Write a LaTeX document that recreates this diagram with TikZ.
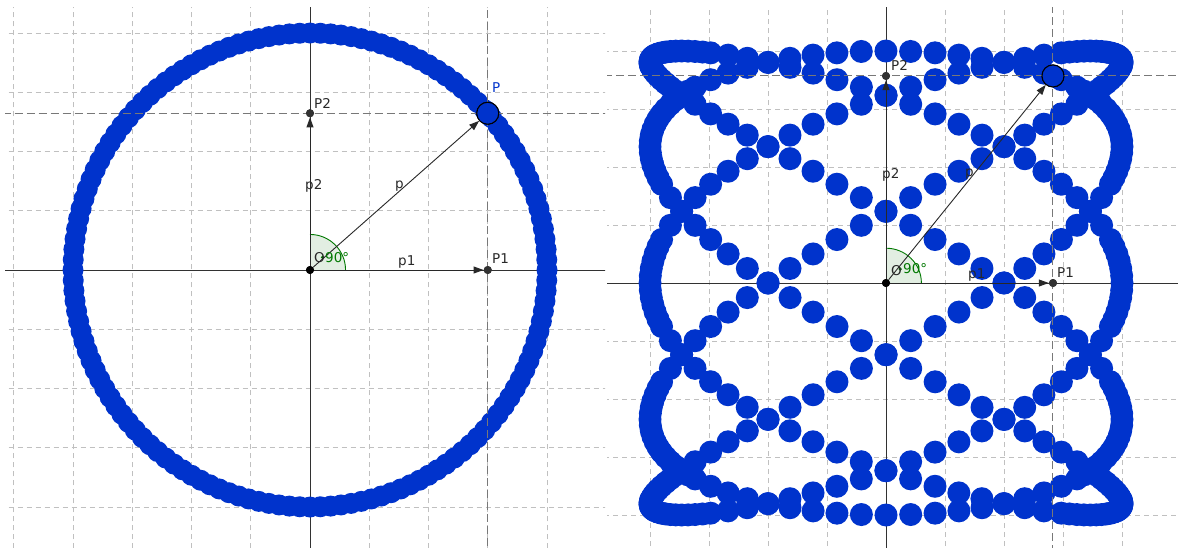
\documentclass[tikz,border=0pt]{standalone}
\usepackage{fontspec}
\setmainfont{DejaVu Sans}
\usetikzlibrary{arrows.meta}
\definecolor{dotblue}{RGB}{0,51,204}
\definecolor{gridgray}{RGB}{192,192,192}
\definecolor{dashdark}{RGB}{120,120,120}
\definecolor{axisgray}{RGB}{50,50,50}
\definecolor{txt}{RGB}{40,40,40}
\definecolor{anggreen}{RGB}{0,120,0}
\definecolor{angfill}{RGB}{226,238,226}
\tikzset{
  gridline/.style={gridgray, dash pattern=on 5pt off 4pt, line width=0.8pt},
  axisline/.style={axisgray, line width=0.9pt},
  guide/.style={dashdark, dash pattern=on 8pt off 4pt, line width=1pt},
  vec/.style={txt, line width=0.9pt, -{Triangle[length=10pt,width=7pt]}},
  ptdot/.style={circle, fill=axisgray, inner sep=0pt, minimum size=8pt},
  odot/.style={circle, fill=black, inner sep=0pt, minimum size=8pt},
  pcirc/.style={circle, draw=black, fill=dotblue, line width=1pt, inner sep=0pt, minimum size=22pt},
  lbl/.style={font=\fontsize{13.5}{16}\selectfont, text=txt, inner sep=0pt, anchor=base west},
  anglbl/.style={lbl, text=anggreen},
}
\begin{document}
\begin{tikzpicture}[x=1pt,y=-1pt]
\useasboundingbox (0,0) rectangle (1178,547);
\fill[white] (0,0) rectangle (1178,547);

% ---------------- left panel ----------------
\begin{scope}
\clip (5,7) rectangle (605,547);
\begin{scope}[shift={(310,270)}, x=59.25pt, y=59.25pt]
  \foreach \k in {-5,...,5} {
    \ifnum\k=0\relax\else
      \draw[gridline] (\k,-5) -- (\k,5);
      \draw[gridline] (-6,\k) -- (6,\k);
    \fi
  }
  \fill[angfill] (0,0) -- (0.6,0) arc[start angle=0,end angle=90,radius=0.6] -- cycle;
  \draw[anggreen, line width=0.9pt] (0.6,0) arc[start angle=0,end angle=90,radius=0.6];
  \fill[anggreen] (45:0.3) circle[radius=1.8pt];
  \draw[axisline] (-6,0) -- (6,0);
  \draw[axisline] (0,-5) -- (0,5);
  \foreach \a in {0,2.5,...,357.5} \fill[dotblue] (\a:4) circle[radius=10.5pt];
  \node[odot] (OL) at (0,0) {};
  \node[ptdot] (P1L) at (3,0) {};
  \node[ptdot] (P2L) at (0,2.6458) {};
  \node[pcirc] (PL) at (3,2.6458) {};
  \draw[guide] (P1L |- 0,5) -- (P1L |- 0,-5);
  \draw[guide] (P2L -| -6,0) -- (P2L -| 6,0);
  \draw[vec] (OL) -- (P1L);
  \draw[vec] (OL) -- (P2L);
  \draw[vec] (OL) -- (PL);
  \node[ptdot] at (P1L) {};
  \node[ptdot] at (P2L) {};
  \node[odot] at (OL) {};
  \node[pcirc] at (PL) {};
\end{scope}
\end{scope}
\node[lbl] (lP2L) at (314,108) {P2};
\node[lbl] (lp2L) at (305,189) {p2};
\node[lbl] (lpL) at (395,188) {p};
\node[lbl] (lp1L) at (398,265) {p1};
\node[lbl] (lP1L) at (492,263) {P1};
\node[lbl, text=dotblue] (lPL) at (492,92) {P};
\node[lbl] (lOL) at (314,262) {O};
\node[anglbl] (lAL) at (325,262) {90°};

% ---------------- right panel ----------------
\begin{scope}
\clip (607,7) rectangle (1178,547);
\begin{scope}[shift={(886,283)}, x=59pt, y=58pt]
  \foreach \k in {-5,...,5} {
    \ifnum\k=0\relax\else
      \draw[gridline] (\k,-5) -- (\k,5);
      \draw[gridline] (-6,\k) -- (6,\k);
    \fi
  }
  \fill[angfill] (0,0) -- (0.6,0) arc[start angle=0,end angle=90,radius=0.6] -- cycle;
  \draw[anggreen, line width=0.9pt] (0.6,0) arc[start angle=0,end angle=90,radius=0.6];
  \fill[anggreen] (45:0.34) circle[radius=1.8pt];
  \draw[axisline] (-6,0) -- (6,0);
  \draw[axisline] (0,-5) -- (0,5);
  \foreach \i in {0,...,1199} {
    \pgfmathsetmacro\tt{0.3*\i}
    \pgfmathsetmacro\sp{sqrt((20*sin(5*\tt))^2+(12*cos(3*\tt))^2)}
    \pgfmathtruncatemacro\keep{(mod(\i,4)==0) || ((mod(\i,2)==0) && (\sp<13)) || (\sp<5)}
    \ifnum\keep=1
      \fill[dotblue] ({-4*cos(5*\tt)},{4*sin(3*\tt)}) circle[radius=11.5pt];
    \fi
  }
  \node[odot] (OR) at (0,0) {};
  \node[ptdot] (P1R) at (2.83,0) {};
  \node[ptdot] (P2R) at (0,3.57) {};
  \node[pcirc] (PR) at (2.83,3.57) {};
  \draw[guide] (P1R |- 0,5) -- (P1R |- 0,-5);
  \draw[guide] (P2R -| -6,0) -- (P2R -| 6,0);
  \draw[vec] (OR) -- (P1R);
  \draw[vec] (OR) -- (P2R);
  \draw[vec] (OR) -- (PR);
  \node[ptdot] at (P1R) {};
  \node[ptdot] at (P2R) {};
  \node[odot] at (OR) {};
  \node[pcirc] at (PR) {};
\end{scope}
\end{scope}
\node[lbl] (lP2R) at (891,70) {P2};
\node[lbl] (lp2R) at (882,178) {p2};
\node[lbl] (lpR) at (965,176) {p};
\node[lbl] (lp1R) at (968,278) {p1};
\node[lbl] (lP1R) at (1057,277) {P1};
\node[lbl] (lOR) at (891,275) {O};
\node[anglbl] (lAR) at (903,273) {90°};
\end{tikzpicture}
\end{document}
